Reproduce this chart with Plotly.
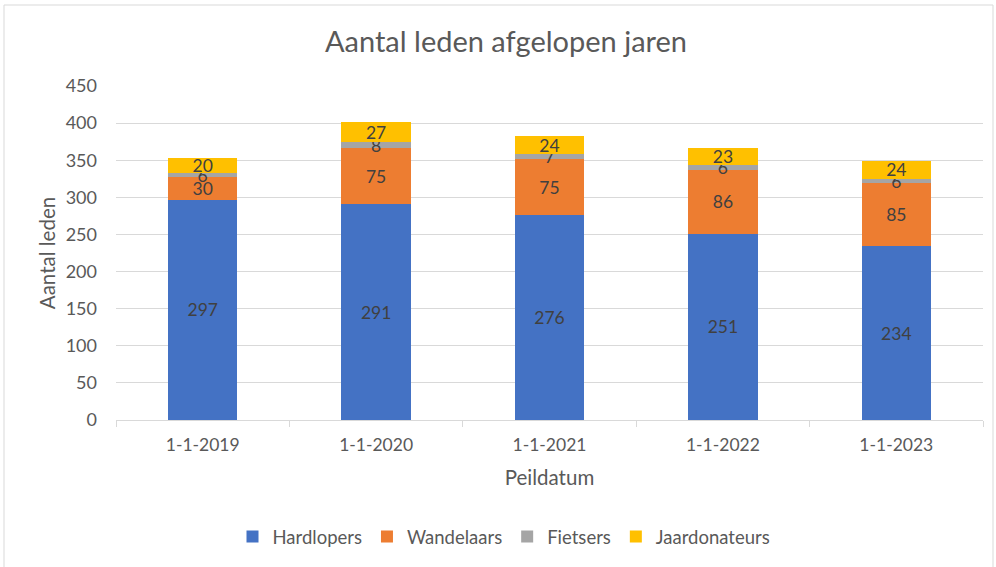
import plotly.graph_objects as go

categories = ["1-1-2019", "1-1-2020", "1-1-2021", "1-1-2022", "1-1-2023"]
hardlopers = [297, 291, 276, 251, 234]
wandelaars = [30, 75, 75, 86, 85]
fietsers = [6, 8, 7, 6, 6]
jaardonateurs = [20, 27, 24, 23, 24]

series = [
    ("Hardlopers", hardlopers, "#4472C4"),
    ("Wandelaars", wandelaars, "#ED7D31"),
    ("Fietsers", fietsers, "#A5A5A5"),
    ("Jaardonateurs", jaardonateurs, "#FFC000"),
]

FONT = "Lato, 'Open Sans', sans-serif"
TXT = "#595959"

fig = go.Figure()
for name, vals, col in series:
    fig.add_trace(go.Bar(
        x=categories, y=vals, name=name,
        marker=dict(color=col, line=dict(width=0)),
        text=vals, textposition="inside", insidetextanchor="middle",
        textangle=0,
        textfont=dict(color="#404040", size=17.5, family=FONT),
        cliponaxis=False,
    ))

W, H = 996, 567
L, R, T, B = 116, 983, 86, 420

def px(x):
    return (x - L) / (R - L)

def py(y):
    return (B - y) / (B - T)

fig.update_layout(
    width=W, height=H,
    barmode="stack", bargap=0.6,
    margin=dict(l=L, r=W - R, t=T, b=H - B, autoexpand=False),
    paper_bgcolor="white", plot_bgcolor="white",
    font=dict(family=FONT, color=TXT, size=17),
    uniformtext=dict(minsize=17.5, mode="show"),
    title=dict(text="Aantal leden afgelopen jaren", x=506 / W, y=1 - 42 / H,
               xanchor="center", yanchor="middle",
               font=dict(size=29, color=TXT, family=FONT)),
    legend=dict(orientation="h", x=px(504), y=py(537), xanchor="center",
                yanchor="middle", font=dict(size=18.5, color=TXT),
                itemwidth=30, traceorder="normal"),
    showlegend=True,
    xaxis=dict(
        showline=True, linecolor="#D9D9D9", linewidth=1,
        ticks="outside", tickson="boundaries", ticklen=6, tickcolor="#D9D9D9",
        tickfont=dict(size=17.5, color=TXT), ticklabelstandoff=9,
        title=dict(text="Peildatum", font=dict(size=20.5, color=TXT), standoff=16),
        showgrid=False,
    ),
    yaxis=dict(
        range=[0, 450], dtick=50, showgrid=True, gridcolor="#D9D9D9",
        gridwidth=1, zeroline=False, showline=False,
        tickfont=dict(size=18, color=TXT), ticklabelstandoff=18,
        title=dict(text="Aantal leden", font=dict(size=20.5, color=TXT), standoff=4),
    ),
    shapes=[dict(type="rect", xref="paper", yref="paper",
                 x0=px(4), x1=px(993), y0=py(575), y1=py(5),
                 line=dict(color="#D9D9D9", width=1), layer="below")],
)

fig.write_html("out.html", post_script="document.body.style.margin='0';",
               config={"displayModeBar": False})
